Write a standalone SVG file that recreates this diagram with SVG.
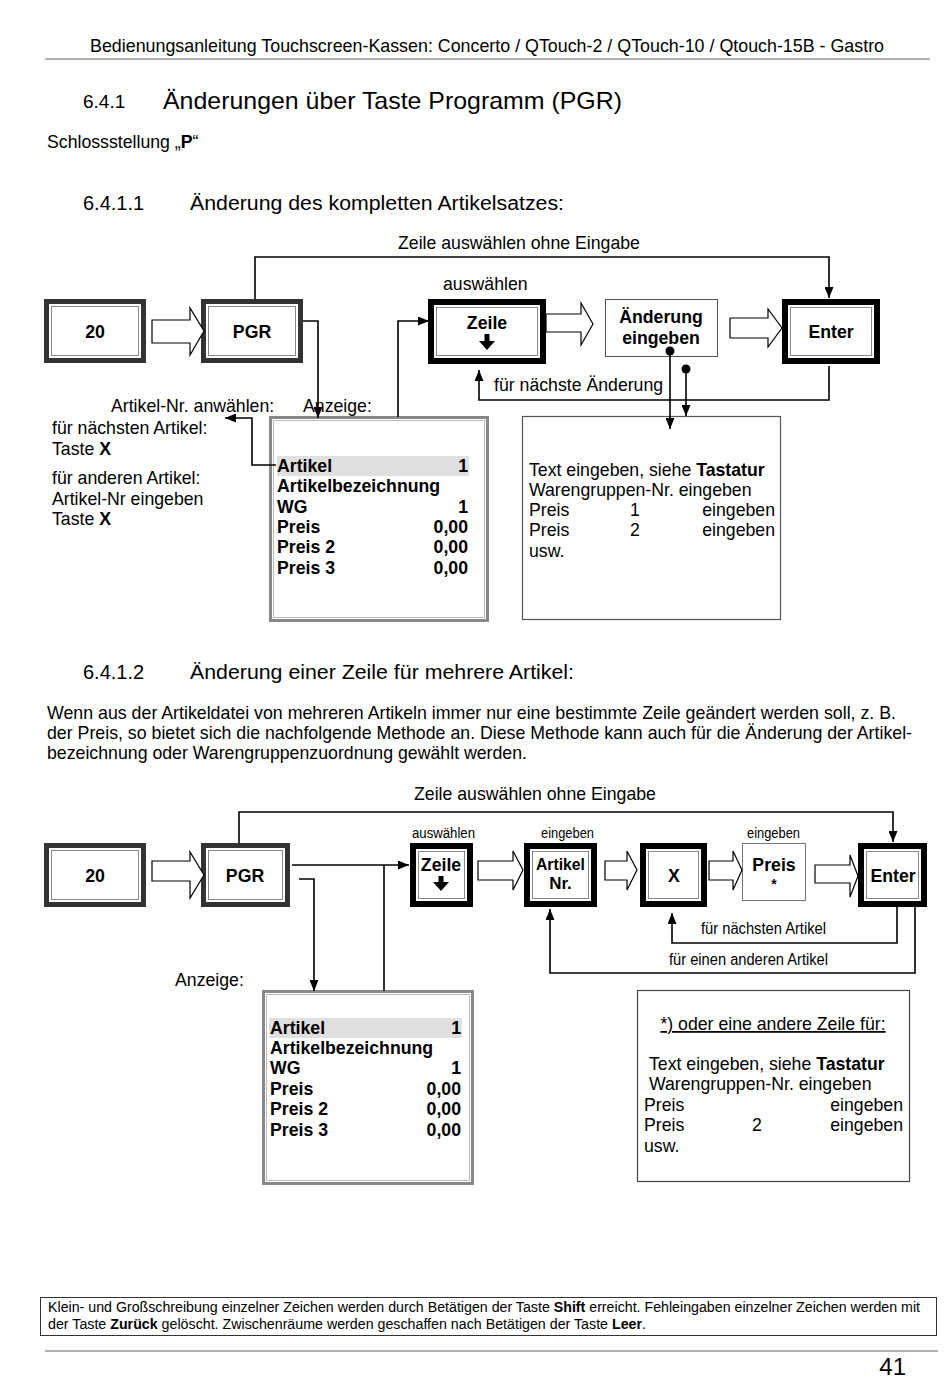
<svg xmlns="http://www.w3.org/2000/svg" width="950" height="1388" viewBox="0 0 950 1388">
<defs>
<style>
text{font-family:"Liberation Sans",Arial,sans-serif;fill:#000}
.t17{font-size:17.7px}
.b17{font-size:17.7px;font-weight:bold}
.sm{font-size:14px}
.ln{fill:none;stroke:#000;stroke-width:1.6}
.arw{fill:none;stroke:#000;stroke-width:1.6;marker-end:url(#ah)}
.blk{fill:#fff;stroke:#000;stroke-width:1.2;stroke-linejoin:miter}
.inl{fill:none;stroke:#888;stroke-width:1}
.mid{text-anchor:middle}
.end{text-anchor:end}
.hr{stroke:#999;stroke-width:1.3}
</style>
<marker id="ah" viewBox="0 0 11 9" refX="11" refY="4.5" markerWidth="11" markerHeight="9" markerUnits="userSpaceOnUse" orient="auto">
<path d="M0,0 L11,4.5 L0,9 z" fill="#000"/>
</marker>
</defs>
<rect x="0" y="0" width="950" height="1388" fill="#fff"/>

<!-- header -->
<text x="90" y="52" class="t17" textLength="794" lengthAdjust="spacingAndGlyphs">Bedienungsanleitung Touchscreen-Kassen: Concerto / QTouch-2 / QTouch-10 / Qtouch-15B - Gastro</text>
<line x1="45" y1="59" x2="930" y2="59" class="hr"/>
<text x="83" y="108" style="font-size:19px">6.4.1</text>
<text x="163" y="109" style="font-size:24px" textLength="459" lengthAdjust="spacingAndGlyphs">Änderungen über Taste Programm (PGR)</text>
<text x="47" y="148" class="t17">Schlossstellung „<tspan font-weight="bold">P</tspan>“</text>
<text x="83" y="210" style="font-size:20px">6.4.1.1</text>
<text x="190" y="210" style="font-size:20px" textLength="374" lengthAdjust="spacingAndGlyphs">Änderung des kompletten Artikelsatzes:</text>

<!-- ===== top diagram ===== -->
<g id="display-top">
<rect x="270.5" y="417.5" width="217" height="203" fill="none" stroke="#888" stroke-width="3"/>
<rect x="273.5" y="420.5" width="211" height="197" fill="none" stroke="#bbb" stroke-width="1"/>
<rect x="277" y="456" width="192" height="20" fill="#e0e0e0"/>
<text x="277" y="472" class="b17">Artikel</text><text x="468" y="472" class="b17 end">1</text>
<text x="277" y="492" class="b17">Artikelbezeichnung</text>
<text x="277" y="513" class="b17">WG</text><text x="468" y="513" class="b17 end">1</text>
<text x="277" y="533" class="b17">Preis</text><text x="468" y="533" class="b17 end">0,00</text>
<text x="277" y="553" class="b17">Preis 2</text><text x="468" y="553" class="b17 end">0,00</text>
<text x="277" y="574" class="b17">Preis 3</text><text x="468" y="574" class="b17 end">0,00</text>
</g>
<g id="input-top">
<rect x="522.5" y="416.5" width="258" height="203" fill="none" stroke="#555" stroke-width="1.2"/>
<text x="529" y="476" class="t17">Text eingeben, siehe <tspan font-weight="bold">Tastatur</tspan></text>
<text x="529" y="496" class="t17">Warengruppen-Nr. eingeben</text>
<text x="529" y="516" class="t17">Preis</text><text x="635" y="516" class="t17 mid">1</text><text x="775" y="516" class="t17 end">eingeben</text>
<text x="529" y="536" class="t17">Preis</text><text x="635" y="536" class="t17 mid">2</text><text x="775" y="536" class="t17 end">eingeben</text>
<text x="529" y="557" class="t17">usw.</text>
</g>

<g id="key-20-top">
<rect x="44" y="299" width="102" height="64" fill="#333"/>
<rect x="49" y="304" width="92" height="54" fill="#fff"/>
<rect x="51.5" y="306.5" width="87" height="49" class="inl"/>
<text x="95" y="338" class="b17 mid">20</text>
</g>
<g id="key-pgr-top">
<rect x="201" y="299" width="102" height="64" fill="#333"/>
<rect x="206" y="304" width="92" height="54" fill="#fff"/>
<rect x="208.5" y="306.5" width="87" height="49" class="inl"/>
<text x="252" y="338" class="b17 mid">PGR</text>
</g>
<g id="key-zeile-top">
<rect x="428" y="299" width="118" height="65" fill="#000"/>
<rect x="434" y="305" width="106" height="53" fill="#fff"/>
<rect x="436.5" y="307.5" width="101" height="48" class="inl"/>
<text x="487" y="329" class="b17 mid">Zeile</text>
<path d="M484.5,334 h5 v7 h5.5 l-8,9 l-8,-9 h5.5 z" fill="#000"/>
</g>
<g id="box-aenderung">
<rect x="605.5" y="299.5" width="112" height="57" fill="#fff" stroke="#555" stroke-width="1"/>
<text x="661" y="323" class="b17 mid">Änderung</text>
<text x="661" y="344" class="b17 mid">eingeben</text>
</g>
<g id="key-enter-top">
<rect x="782" y="299" width="98" height="65" fill="#000"/>
<rect x="788" y="305" width="86" height="53" fill="#fff"/>
<rect x="790.5" y="307.5" width="81" height="48" class="inl"/>
<text x="831" y="338" class="b17 mid">Enter</text>
</g>

<g id="connectors-top">
<path class="arw" d="M255,299 V257 H829 V298"/>
<path class="arw" d="M303,321 H318 V418"/>
<path class="arw" d="M398,417 V321 H429"/>
<path class="arw" d="M829,366 V400 H479 V370"/>
<circle cx="670" cy="351" r="4.5" fill="#000"/>
<path class="arw" d="M670,351 V429"/>
<circle cx="686" cy="369" r="4.5" fill="#000"/>
<path class="arw" d="M686,369 V416"/>
<path class="arw" d="M276,465 H252 V418 H225"/>
<path class="blk" d="M152,320 H190 V308 L204,331 L190,355 V343 H152 Z"/>
<path class="blk" d="M546,314 H581 V303 L593,324 L581,345 V332 H546 Z"/>
<path class="blk" d="M730,318 H768 V309 L782,328 L768,347 V338 H730 Z"/>
</g>
<text x="519" y="249" class="t17 mid">Zeile auswählen ohne Eingabe</text>
<text x="443" y="290" class="t17">auswählen</text>
<text x="494" y="391" class="t17">für nächste Änderung</text>

<g id="left-notes-top">
<text x="111" y="412" class="t17">Artikel-Nr. anwählen:</text>
<text x="303" y="412" class="t17">Anzeige:</text>
<text x="52" y="434" class="t17">für nächsten Artikel:</text>
<text x="52" y="455" class="t17">Taste <tspan font-weight="bold">X</tspan></text>
<text x="52" y="484" class="t17">für anderen Artikel:</text>
<text x="52" y="505" class="t17">Artikel-Nr eingeben</text>
<text x="52" y="525" class="t17">Taste <tspan font-weight="bold">X</tspan></text>
</g>

<!-- section 2 -->
<text x="83" y="679" style="font-size:20px">6.4.1.2</text>
<text x="190" y="679" style="font-size:20px" textLength="384" lengthAdjust="spacingAndGlyphs">Änderung einer Zeile für mehrere Artikel:</text>
<text x="47" y="719" class="t17" textLength="849" lengthAdjust="spacingAndGlyphs">Wenn aus der Artikeldatei von mehreren Artikeln immer nur eine bestimmte Zeile geändert werden soll, z. B.</text>
<text x="47" y="739" class="t17" textLength="865" lengthAdjust="spacingAndGlyphs">der Preis, so bietet sich die nachfolgende Methode an. Diese Methode kann auch für die Änderung der Artikel-</text>
<text x="47" y="759" class="t17" textLength="480" lengthAdjust="spacingAndGlyphs">bezeichnung oder Warengruppenzuordnung gewählt werden.</text>

<!-- ===== bottom diagram ===== -->
<g id="display-bottom">
<rect x="263.5" y="991.5" width="209" height="192" fill="none" stroke="#888" stroke-width="3"/>
<rect x="266.5" y="994.5" width="203" height="186" fill="none" stroke="#bbb" stroke-width="1"/>
<rect x="269" y="1018" width="193" height="20" fill="#e0e0e0"/>
<text x="270" y="1034" class="b17">Artikel</text><text x="461" y="1034" class="b17 end">1</text>
<text x="270" y="1054" class="b17">Artikelbezeichnung</text>
<text x="270" y="1074" class="b17">WG</text><text x="461" y="1074" class="b17 end">1</text>
<text x="270" y="1095" class="b17">Preis</text><text x="461" y="1095" class="b17 end">0,00</text>
<text x="270" y="1115" class="b17">Preis 2</text><text x="461" y="1115" class="b17 end">0,00</text>
<text x="270" y="1136" class="b17">Preis 3</text><text x="461" y="1136" class="b17 end">0,00</text>
</g>
<g id="input-bottom">
<rect x="637.5" y="990.5" width="272" height="191" fill="none" stroke="#444" stroke-width="1.2"/>
<text x="773" y="1030" class="t17 mid" text-decoration="underline">*) oder eine andere Zeile für:</text>
<text x="649" y="1070" class="t17">Text eingeben, siehe <tspan font-weight="bold">Tastatur</tspan></text>
<text x="649" y="1090" class="t17">Warengruppen-Nr. eingeben</text>
<text x="644" y="1111" class="t17">Preis</text><text x="903" y="1111" class="t17 end">eingeben</text>
<text x="644" y="1131" class="t17">Preis</text><text x="757" y="1131" class="t17 mid">2</text><text x="903" y="1131" class="t17 end">eingeben</text>
<text x="644" y="1152" class="t17">usw.</text>
</g>

<g id="key-20-bottom">
<rect x="44" y="843" width="102" height="64" fill="#333"/>
<rect x="49" y="848" width="92" height="54" fill="#fff"/>
<rect x="51.5" y="850.5" width="87" height="49" class="inl"/>
<text x="95" y="882" class="b17 mid">20</text>
</g>
<g id="key-pgr-bottom">
<rect x="201" y="843" width="89" height="64" fill="#333"/>
<rect x="206" y="848" width="79" height="54" fill="#fff"/>
<rect x="208.5" y="850.5" width="74" height="49" class="inl"/>
<text x="245" y="882" class="b17 mid">PGR</text>
</g>
<g id="key-zeile-bottom">
<rect x="410" y="843" width="63" height="64" fill="#000"/>
<rect x="416" y="849" width="51" height="52" fill="#fff"/>
<rect x="418.5" y="851.5" width="46" height="47" class="inl"/>
<text x="441" y="871" class="b17 mid">Zeile</text>
<path d="M438.5,876 h5 v6 h5.5 l-8,9 l-8,-9 h5.5 z" fill="#000"/>
</g>
<g id="key-artikelnr">
<rect x="524" y="843" width="73" height="64" fill="#000"/>
<rect x="530" y="849" width="61" height="52" fill="#fff"/>
<rect x="532.5" y="851.5" width="56" height="47" class="inl"/>
<text x="560.5" y="870" class="mid" style="font-size:17px;font-weight:bold" textLength="49" lengthAdjust="spacingAndGlyphs">Artikel</text>
<text x="560.5" y="889" class="mid" style="font-size:17px;font-weight:bold">Nr.</text>
</g>
<g id="key-x">
<rect x="640" y="843" width="67" height="64" fill="#000"/>
<rect x="646" y="849" width="55" height="52" fill="#fff"/>
<rect x="648.5" y="851.5" width="50" height="47" class="inl"/>
<text x="674" y="882" class="b17 mid">X</text>
</g>
<g id="box-preis">
<rect x="742.5" y="843.5" width="63" height="57" fill="#fff" stroke="#777" stroke-width="1"/>
<text x="774" y="871" class="b17 mid">Preis</text>
<text x="774" y="889" class="mid" style="font-size:14px;font-weight:bold">*</text>
</g>
<g id="key-enter-bottom">
<rect x="858" y="843" width="69" height="64" fill="#000"/>
<rect x="864" y="849" width="57" height="52" fill="#fff"/>
<rect x="866.5" y="851.5" width="52" height="47" class="inl"/>
<text x="893" y="882" class="b17 mid">Enter</text>
</g>

<g id="connectors-bottom">
<path class="arw" d="M239,843 V812 H893 V842"/>
<path class="arw" d="M292,865 H409"/>
<path class="ln" d="M384,865 V991"/>
<path class="arw" d="M299,879 H314 V991"/>
<path class="arw" d="M897,907 V943 H672 V913"/>
<path class="arw" d="M915,907 V973 H550 V909"/>
<path class="blk" d="M152,861 H190 V852 L204,875 L190,898 V881 H152 Z"/>
<path class="blk" d="M478,861 H513 V851 L523,870 L513,890 V880 H478 Z"/>
<path class="blk" d="M605,861 H627 V851 L637,870 L627,890 V880 H605 Z"/>
<path class="blk" d="M709,861 H733 V851 L742,870 L733,890 V880 H709 Z"/>
<path class="blk" d="M815,865 H850 V855 L858,876 L850,897 V883 H815 Z"/>
</g>
<text x="535" y="800" class="t17 mid">Zeile auswählen ohne Eingabe</text>
<text x="412" y="838" class="sm" textLength="63" lengthAdjust="spacingAndGlyphs">auswählen</text>
<text x="541" y="838" class="sm" textLength="53" lengthAdjust="spacingAndGlyphs">eingeben</text>
<text x="747" y="838" class="sm" textLength="53" lengthAdjust="spacingAndGlyphs">eingeben</text>
<text x="701" y="934" style="font-size:16px" textLength="125" lengthAdjust="spacingAndGlyphs">für nächsten Artikel</text>
<text x="669" y="965" style="font-size:16px" textLength="159" lengthAdjust="spacingAndGlyphs">für einen anderen Artikel</text>
<text x="175" y="986" class="t17">Anzeige:</text>

<!-- footer -->
<g id="footer-note">
<rect x="40.5" y="1297.5" width="896" height="38" fill="none" stroke="#333" stroke-width="1"/>
<text x="48" y="1312" style="font-size:14px" textLength="872" lengthAdjust="spacingAndGlyphs">Klein- und Großschreibung einzelner Zeichen werden durch Betätigen der Taste <tspan font-weight="bold">Shift</tspan> erreicht. Fehleingaben einzelner Zeichen werden mit</text>
<text x="48" y="1329" style="font-size:14px" textLength="598" lengthAdjust="spacingAndGlyphs">der Taste <tspan font-weight="bold">Zurück</tspan> gelöscht. Zwischenräume werden geschaffen nach Betätigen der Taste <tspan font-weight="bold">Leer</tspan>.</text>
</g>
<line x1="45" y1="1351" x2="938" y2="1351" class="hr"/>
<text x="906" y="1375" class="end" style="font-size:24px">41</text>
</svg>
